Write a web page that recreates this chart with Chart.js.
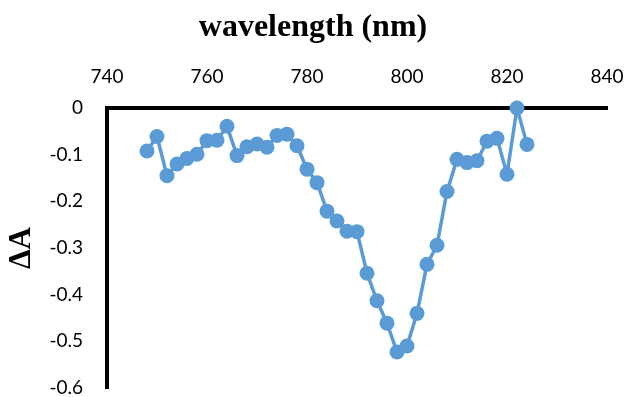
<!DOCTYPE html>
<html>
<head>
<meta charset="utf-8">
<script src="https://cdn.jsdelivr.net/npm/chart.js@4"></script>
<style>
  html, body { margin: 0; padding: 0; background: #fff; }
  #wrap { width: 626px; height: 397px; }
</style>
</head>
<body>
<div id="wrap"><canvas id="chartDA"></canvas></div>
<script>
// wavelength (nm) and absorbance change
var wavelengths = [748, 750, 752, 754, 756, 758, 760, 762, 764, 766, 768, 770, 772, 774, 776, 778, 780,
  782, 784, 786, 788, 790, 792, 794, 796, 798, 800, 802, 804, 806, 808, 810, 812, 814, 816, 818, 820, 822, 824];
var deltaA = [-0.092, -0.061, -0.145, -0.120, -0.108, -0.099, -0.070, -0.069, -0.039, -0.102, -0.083, -0.077,
  -0.084, -0.059, -0.056, -0.081, -0.131, -0.160, -0.221, -0.242, -0.264, -0.265, -0.354, -0.413, -0.461,
  -0.523, -0.510, -0.440, -0.335, -0.294, -0.179, -0.110, -0.117, -0.113, -0.071, -0.065, -0.142, 0.000, -0.078];
var xTicks = [740, 760, 780, 800, 820, 840];
var yTicks = [0, -0.1, -0.2, -0.3, -0.4, -0.5, -0.6];

var lineColour = "#5B9BD5";
var tickFont = { family: "Lato", size: 19 };
var titleSize = 32;
var titlePadTop = 9;

var points = [];
for (var i = 0; i < wavelengths.length; i++) {
  points.push({ x: wavelengths[i], y: deltaA[i] });
}

var ctx = document.getElementById("chartDA").getContext("2d");
var chart = new Chart(ctx, {
  type: "line",
  data: {
    datasets: [{
      data: points,
      borderColor: lineColour,
      backgroundColor: lineColour,
      borderWidth: 3.5,
      pointRadius: 7.5,
      pointBorderWidth: 0,
      pointBackgroundColor: lineColour,
      tension: 0,
      clip: false
    }]
  },
  options: {
    responsive: true,
    maintainAspectRatio: false,
    animation: false,
    layout: { padding: { top: 0, left: 0, right: 0, bottom: 9 } },
    plugins: {
      legend: { display: false },
      tooltip: { enabled: false },
      // title sits over the middle of the whole figure, not the plot box
      title: {
        display: true,
        text: "wavelength (nm)",
        color: "#000",
        font: { family: "Liberation Serif", size: titleSize, weight: "bold", lineHeight: 1.2 },
        padding: { top: titlePadTop, bottom: 0 }
      }
    },
    scales: {
      x: {
        type: "linear",
        position: "top",
        min: 740,
        max: 840,
        afterBuildTicks: function(scale) {
          scale.ticks = xTicks.map(function(v) { return { value: v }; });
        },
        afterFit: function(scale) {
          scale.height = 108 - titlePadTop - titleSize * 1.2;
          scale.paddingLeft = 0;
          scale.paddingRight = 19;
        },
        grid: { display: false, drawTicks: false },
        border: { display: true, color: "#000", width: 4 },
        ticks: { color: "#000", font: tickFont, padding: 20, maxRotation: 0 }
      },
      y: {
        type: "linear",
        min: -0.6,
        max: 0,
        afterBuildTicks: function(scale) {
          scale.ticks = yTicks.map(function(v) { return { value: v }; });
        },
        afterFit: function(scale) {
          scale.width = 107;
          scale.paddingTop = 0;
          scale.paddingBottom = 0;
        },
        grid: { display: false, drawTicks: false },
        border: { display: true, color: "#000", width: 4 },
        ticks: {
          color: "#000",
          font: tickFont,
          padding: 24,
          callback: function(v) { return v === 0 ? "0" : v.toFixed(1); }
        },
        title: { display: true, text: "ΔA", color: "#000", font: { family: "Liberation Serif", size: 31, weight: "bold" }, padding: { top: 3, bottom: 0 } }
      }
    }
  }
});
</script>
</body>
</html>
